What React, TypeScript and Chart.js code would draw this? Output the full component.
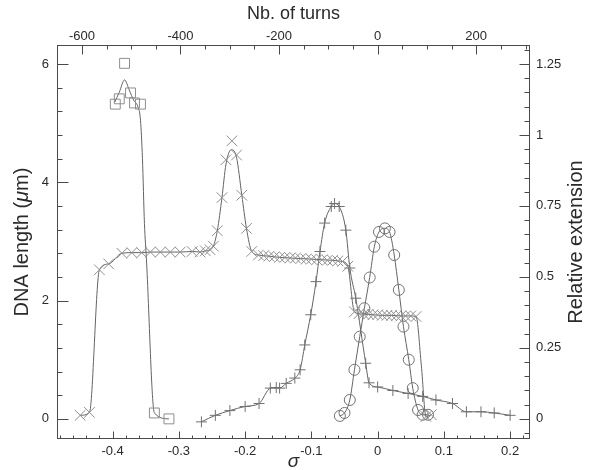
import { useEffect, useRef } from 'react';
import { Chart, registerables } from 'chart.js';

Chart.register(...registerables);

// Bottom axis: supercoiling density sigma; top axis: the same range in turns
const SIGMA_MIN = -0.484;
const SIGMA_MAX = 0.23;
const TURNS_PER_SIGMA = 1344;
// Left axis: DNA length in µm; right axis: relative extension
const LENGTH_MIN = -0.34;
const LENGTH_MAX = 6.32;
const LENGTH_PER_EXTENSION = 4.8;

const sigmaTicks = [-0.4, -0.3, -0.2, -0.1, 0, 0.1, 0.2];
const sigmaTickLabels = ['-0.4', '-0.3', '-0.2', '-0.1', '0', '0.1', '0.2'];
const turnTicks = [-600, -400, -200, 0, 200];
const turnTickLabels = ['-600', '-400', '-200', '0', '200'];
const lengthTicks = [0, 2, 4, 6];
const lengthTickLabels = ['0', '2', '4', '6'];
const extensionTicks = [0, 0.25, 0.5, 0.75, 1, 1.25];
const extensionTickLabels = ['0', '0.25', '0.5', '0.75', '1', '1.25'];
const SIGMA_MINOR = 0.02;
const TURN_MINOR = 50;
const LENGTH_MINOR = 0.4;
const EXTENSION_MINOR = 0.05;

// Square series
const squareSigma = [-0.396, -0.39, -0.382, -0.373, -0.367, -0.358, -0.337, -0.315];
const squareLength = [5.32, 5.41, 6.01, 5.51, 5.34, 5.32, 0.1, 0.0];
const squareFitSigma = [-0.397, -0.39, -0.382, -0.375, -0.368, -0.362, -0.358, -0.355, -0.352, -0.349, -0.337, -0.315];
const squareFitLength = [5.35, 5.52, 5.73, 5.56, 5.38, 5.28, 5.05, 4.4, 3.3, 2.7, 0.1, 0.0];

// Cross (x) series
const crossSigma = [
  -0.449, -0.435, -0.42, -0.406, -0.386, -0.371, -0.356, -0.343, -0.328, -0.313, -0.298,
  -0.28, -0.268, -0.26, -0.253, -0.248, -0.242, -0.235, -0.229, -0.22, -0.213, -0.205,
  -0.198, -0.19, -0.18, -0.172, -0.164, -0.156, -0.148, -0.14, -0.132, -0.124, -0.116,
  -0.108, -0.1, -0.092, -0.084, -0.076, -0.068, -0.06, -0.053, -0.045, -0.035, -0.028,
  -0.021, -0.014, -0.007, 0.0, 0.007, 0.014, 0.021, 0.028, 0.035, 0.042, 0.05, 0.058,
  0.073, 0.081,
];
const crossLength = [
  0.06, 0.11, 2.52, 2.62, 2.8, 2.81, 2.81, 2.82, 2.82, 2.82, 2.82,
  2.83, 2.82, 2.84, 2.86, 2.92, 3.18, 3.74, 4.38, 4.7, 4.46, 3.78,
  3.22, 2.83, 2.77, 2.76, 2.75, 2.74, 2.73, 2.73, 2.72, 2.72, 2.71,
  2.7, 2.7, 2.69, 2.69, 2.68, 2.68, 2.67, 2.66, 2.58, 1.81, 1.78,
  1.77, 1.77, 1.76, 1.76, 1.75, 1.75, 1.75, 1.74, 1.74, 1.74, 1.74, 1.73,
  0.04, 0.07,
];
const crossFitSigma = [
  -0.449, -0.435, -0.42, -0.406, -0.386, -0.371, -0.356, -0.343, -0.328, -0.313, -0.298,
  -0.28, -0.268, -0.26, -0.253, -0.248, -0.242, -0.235, -0.229, -0.221, -0.213, -0.205,
  -0.198, -0.19, -0.18, -0.164, -0.148, -0.132, -0.116, -0.1, -0.084, -0.068, -0.053,
  -0.045, -0.035, -0.021, -0.007, 0.007, 0.021, 0.035, 0.05, 0.058, 0.066, 0.073, 0.081,
];
const crossFitLength = [
  0.06, 0.11, 2.52, 2.62, 2.8, 2.81, 2.81, 2.82, 2.82, 2.82, 2.82,
  2.83, 2.82, 2.84, 2.86, 2.92, 3.18, 3.74, 4.3, 4.55, 4.42, 3.78,
  3.22, 2.83, 2.77, 2.75, 2.73, 2.72, 2.71, 2.7, 2.69, 2.68, 2.66,
  2.58, 1.81, 1.77, 1.76, 1.75, 1.75, 1.74, 1.74, 1.73, 0.9, 0.04, 0.07,
];

// Plus (+) series
const plusSigma = [
  -0.266, -0.245, -0.223, -0.2, -0.179, -0.162, -0.153, -0.148, -0.138, -0.125, -0.117,
  -0.11, -0.101, -0.093, -0.087, -0.08, -0.07, -0.065, -0.058, -0.048, -0.042, -0.033,
  -0.018, -0.013, 0.0, 0.023, 0.046, 0.068, 0.088, 0.113, 0.134, 0.156, 0.176, 0.2,
];
const plusLength = [
  -0.05, 0.06, 0.14, 0.21, 0.26, 0.52, 0.53, 0.52, 0.6, 0.69, 0.83,
  1.25, 1.76, 2.32, 2.83, 3.31, 3.59, 3.64, 3.59, 3.19, 2.55, 2.04,
  0.94, 0.61, 0.54, 0.48, 0.43, 0.38, 0.32, 0.26, 0.12, 0.12, 0.1, 0.06,
];

// Circle series
const circleSigma = [
  -0.057, -0.05, -0.042, -0.035, -0.027, -0.02, -0.012, -0.005, 0.002, 0.011, 0.018,
  0.025, 0.032, 0.039, 0.047, 0.053, 0.061, 0.068, 0.076,
];
const circleLength = [
  0.05, 0.1, 0.32, 0.83, 1.39, 1.87, 2.39, 2.91, 3.16, 3.22, 3.16,
  2.77, 2.18, 1.56, 1.0, 0.52, 0.15, 0.07, 0.07,
];

const MARK = '#8e8e8e';
const MARK_DARK = '#727272';
const LINE = '#646464';
const FRAME = '#4a4a4a';
const TEXT = '#2a2a2a';
const FONT = '"Liberation Sans", Arial, Helvetica, sans-serif';

const toPoints = (xs: number[], ys: number[]) => xs.map((x, i) => ({ x, y: ys[i] }));

const markers = (xs: number[], ys: number[], style: string, radius: number, color: string) => ({
  data: toPoints(xs, ys),
  showLine: false,
  pointStyle: style,
  pointRadius: radius,
  pointBorderColor: color,
  pointBackgroundColor: 'rgba(0,0,0,0)',
  pointBorderWidth: 1,
  order: 1,
});

const curve = (xs: number[], ys: number[]) => ({
  data: toPoints(xs, ys),
  showLine: true,
  pointRadius: 0,
  borderColor: LINE,
  borderWidth: 1,
  cubicInterpolationMode: 'monotone' as const,
  order: 2,
});

function minorValues(min: number, max: number, step: number) {
  const out: number[] = [];
  for (let k = Math.ceil(min / step - 1e-9); k * step <= max + 1e-9; k++) out.push(k * step);
  return out;
}

// Frame with inward tick marks, and the four axis titles
const framePlugin = {
  id: 'frameTicks',
  afterDraw(chart: any) {
    const { ctx, chartArea } = chart;
    const { left, right, top, bottom } = chartArea;
    const sx = chart.scales.x;
    const sx2 = chart.scales.x2;
    const sy = chart.scales.y;
    const sy2 = chart.scales.y2;
    ctx.save();
    ctx.strokeStyle = FRAME;
    ctx.lineWidth = 1;
    const L = Math.round(left) + 0.5;
    const R = Math.round(right) - 0.5;
    const T = Math.round(top) + 0.5;
    const B = Math.round(bottom) - 0.5;
    ctx.strokeRect(L, T, R - L, B - T);

    ctx.beginPath();
    const hTicks = (scale: any, values: number[], y: number, dir: number, len: number) => {
      values.forEach((v) => {
        const px = Math.round(scale.getPixelForValue(v)) + 0.5;
        if (px < L || px > R) return;
        ctx.moveTo(px, y);
        ctx.lineTo(px, y + dir * len);
      });
    };
    const vTicks = (scale: any, values: number[], x: number, dir: number, len: number) => {
      values.forEach((v) => {
        const py = Math.round(scale.getPixelForValue(v)) + 0.5;
        if (py < T || py > B) return;
        ctx.moveTo(x, py);
        ctx.lineTo(x + dir * len, py);
      });
    };
    hTicks(sx, minorValues(SIGMA_MIN, SIGMA_MAX, SIGMA_MINOR), B, -1, 3);
    hTicks(sx, sigmaTicks, B, -1, 7);
    hTicks(sx2, minorValues(sx2.min, sx2.max, TURN_MINOR), T, 1, 4);
    hTicks(sx2, turnTicks, T, 1, 9);
    vTicks(sy, minorValues(LENGTH_MIN, LENGTH_MAX, LENGTH_MINOR), L, 1, 5);
    vTicks(sy, lengthTicks, L, 1, 11);
    vTicks(sy2, minorValues(sy2.min, sy2.max, EXTENSION_MINOR), R, -1, 5);
    vTicks(sy2, extensionTicks, R, -1, 10);
    ctx.stroke();

    ctx.fillStyle = TEXT;
    ctx.textAlign = 'center';
    ctx.textBaseline = 'middle';
    const cx = (left + right) / 2;
    const cy = (top + bottom) / 2;

    ctx.font = `18px ${FONT}`;
    ctx.fillText('Nb. of turns', cx, 14);

    ctx.font = `italic 19px ${FONT}`;
    ctx.fillText('σ', cx, 462);

    // Left title, with an italic mu
    const parts = [
      { t: 'DNA length (', f: `20px ${FONT}` },
      { t: 'μ', f: `italic 20px ${FONT}` },
      { t: 'm)', f: `20px ${FONT}` },
    ];
    let total = 0;
    parts.forEach((p) => {
      ctx.font = p.f;
      total += ctx.measureText(p.t).width;
    });
    ctx.save();
    ctx.translate(22, cy);
    ctx.rotate(-Math.PI / 2);
    ctx.textAlign = 'left';
    let xOff = -total / 2;
    parts.forEach((p) => {
      ctx.font = p.f;
      ctx.fillText(p.t, xOff, 0);
      xOff += ctx.measureText(p.t).width;
    });
    ctx.restore();

    ctx.save();
    ctx.translate(576, cy);
    ctx.rotate(-Math.PI / 2);
    ctx.font = `20px ${FONT}`;
    ctx.fillText('Relative extension', 0, 0);
    ctx.restore();

    ctx.restore();
  },
};

const fixedTicks = (values: number[]) => (scale: any) => {
  scale.ticks = values.map((value) => ({ value }));
};

export default function App() {
  const canvasRef = useRef<HTMLCanvasElement | null>(null);

  useEffect(() => {
    const canvas = canvasRef.current;
    if (!canvas) return;
    const tickFont = { family: FONT, size: 13 };
    const chart = new Chart(canvas, {
      type: 'scatter',
      data: {
        datasets: [
          curve(squareFitSigma, squareFitLength),
          markers(squareSigma, squareLength, 'rect', 7, MARK),
          curve(crossFitSigma, crossFitLength),
          markers(crossSigma, crossLength, 'crossRot', 7.5, MARK),
          curve(plusSigma, plusLength),
          markers(plusSigma, plusLength, 'cross', 5.5, MARK_DARK),
          curve(circleSigma, circleLength),
          markers(circleSigma, circleLength, 'circle', 5.5, MARK_DARK),
        ] as any,
      },
      options: {
        animation: false,
        responsive: false,
        layout: { padding: 0 },
        plugins: { legend: { display: false }, tooltip: { enabled: false } },
        scales: {
          x: {
            type: 'linear',
            position: 'bottom',
            min: SIGMA_MIN,
            max: SIGMA_MAX,
            grid: { display: false, drawTicks: false },
            border: { display: false },
            afterBuildTicks: fixedTicks(sigmaTicks),
            afterFit: (s: any) => { s.height = 31; },
            ticks: {
              padding: 5,
              maxRotation: 0,
              autoSkip: false,
              color: TEXT,
              font: tickFont,
              callback: (_v: any, i: number) => sigmaTickLabels[i],
            },
          },
          x2: {
            type: 'linear',
            position: 'top',
            min: SIGMA_MIN * TURNS_PER_SIGMA,
            max: SIGMA_MAX * TURNS_PER_SIGMA,
            grid: { display: false, drawTicks: false },
            border: { display: false },
            afterBuildTicks: fixedTicks(turnTicks),
            afterFit: (s: any) => { s.height = 45; },
            ticks: {
              padding: 1,
              maxRotation: 0,
              autoSkip: false,
              color: TEXT,
              font: tickFont,
              callback: (_v: any, i: number) => turnTickLabels[i],
            },
          },
          y: {
            type: 'linear',
            position: 'left',
            min: LENGTH_MIN,
            max: LENGTH_MAX,
            grid: { display: false, drawTicks: false },
            border: { display: false },
            afterBuildTicks: fixedTicks(lengthTicks),
            afterFit: (s: any) => { s.width = 57; },
            ticks: {
              padding: 8,
              autoSkip: false,
              color: TEXT,
              font: tickFont,
              callback: (_v: any, i: number) => lengthTickLabels[i],
            },
          },
          y2: {
            type: 'linear',
            position: 'right',
            min: LENGTH_MIN / LENGTH_PER_EXTENSION,
            max: LENGTH_MAX / LENGTH_PER_EXTENSION,
            grid: { display: false, drawTicks: false },
            border: { display: false },
            afterBuildTicks: fixedTicks(extensionTicks),
            afterFit: (s: any) => { s.width = 59; },
            ticks: {
              padding: 6,
              autoSkip: false,
              color: TEXT,
              font: tickFont,
              callback: (_v: any, i: number) => extensionTickLabels[i],
            },
          },
        },
      },
      plugins: [framePlugin],
    });
    return () => chart.destroy();
  }, []);

  return (
    <div style={{ position: 'absolute', left: 0, top: 0, width: 589, height: 470, background: '#fff' }}>
      <canvas ref={canvasRef} width={589} height={470} style={{ display: 'block' }} />
    </div>
  );
}
